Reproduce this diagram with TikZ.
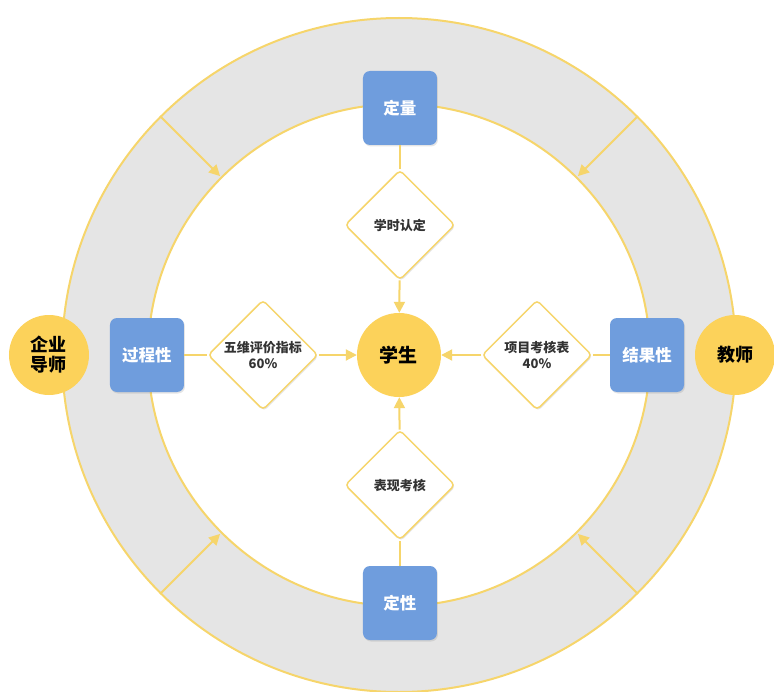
\documentclass[tikz,border=0pt]{standalone}
\usepackage{fontspec}
\newfontfamily\cjk{Noto Sans CJK SC}
\usetikzlibrary{shapes.geometric,arrows.meta,shadows}

\definecolor{ringgray}{RGB}{229,229,229}
\definecolor{lineyellow}{RGB}{246,213,107}
\definecolor{circyellow}{RGB}{252,210,90}
\definecolor{boxblue}{RGB}{111,157,221}
\definecolor{darktext}{RGB}{51,51,51}

\begin{document}
\begin{tikzpicture}[x=1pt,y=1pt,
        font=\cjk\bfseries,
        ring/.style={draw=lineyellow, line width=2pt},
        person/.style={circle, fill=circyellow, minimum size=80pt, inner sep=0pt,
            text=black, font=\cjk\bfseries\fontsize{18}{20}\selectfont, align=center},
        kind/.style={rectangle, rounded corners=7pt, fill=boxblue, minimum size=74pt,
            inner sep=0pt, text=white, font=\cjk\bfseries\fontsize{16.5}{18}\selectfont,
            drop shadow={opacity=0.2, shadow xshift=1pt, shadow yshift=-1.5pt}},
        check/.style={diamond, aspect=1, draw=lineyellow, line width=1.5pt, fill=white,
            rounded corners=4pt, minimum width=110pt, minimum height=110pt, inner sep=0pt,
            text=darktext, font=\cjk\bfseries\fontsize{13}{16}\selectfont, align=center,
            drop shadow={opacity=0.2, shadow xshift=1pt, shadow yshift=-1.5pt}},
        link/.style={draw=lineyellow, line width=2pt},
        flow/.style={link, -{Triangle[length=11pt,width=11pt]}}]
    \useasboundingbox (-399,-336) rectangle (375,355);
    \clip (-399,-336) rectangle (375,355);

    % ring
    \coordinate (c) at (0,0);
    \fill[ringgray] (c) circle[radius=337];
    \draw[ring] (c) circle[radius=337];
    \fill[white] (c) circle[radius=251];
    \draw[ring] (c) circle[radius=251];

    % arrows through the ring
    \foreach \a in {45,135,225,315} {
        \coordinate (out\a) at (\a:337);
        \coordinate (in\a) at (\a:253);
        \draw[flow] (out\a) -- (in\a);
    }

    % nodes
    \node[person, minimum size=84pt, font=\cjk\bfseries\fontsize{19}{21}\selectfont] (student) at (0,0) {学生};
    \node[person] (mentor) at (-350,0) {企业\\导师};
    \node[person] (teacher) at (336,0) {教师};

    \node[kind] (quant) at (1,247) {定量};
    \node[kind] (qual) at (1,-248) {定性};
    \node[kind] (process) at (-252,0) {过程性};
    \node[kind] (result) at (248,0) {结果性};

    \node[check] (hours) at (1,130) {学时认定};
    \node[check] (perform) at (1,-130) {表现考核};
    \node[check] (five) at (-136,0) {五维评价指标\\60\%};
    \node[check] (project) at (138,0) {项目考核表\\40\%};

    % connectors
    \draw[link] (quant) -- (hours);
    \draw[flow] (hours) -- (student);
    \draw[link] (qual) -- (perform);
    \draw[flow] (perform) -- (student);
    \draw[link] (process) -- (five);
    \draw[flow] (five) -- (student);
    \draw[link] (result) -- (project);
    \draw[flow] (project) -- (student);
\end{tikzpicture}
\end{document}
